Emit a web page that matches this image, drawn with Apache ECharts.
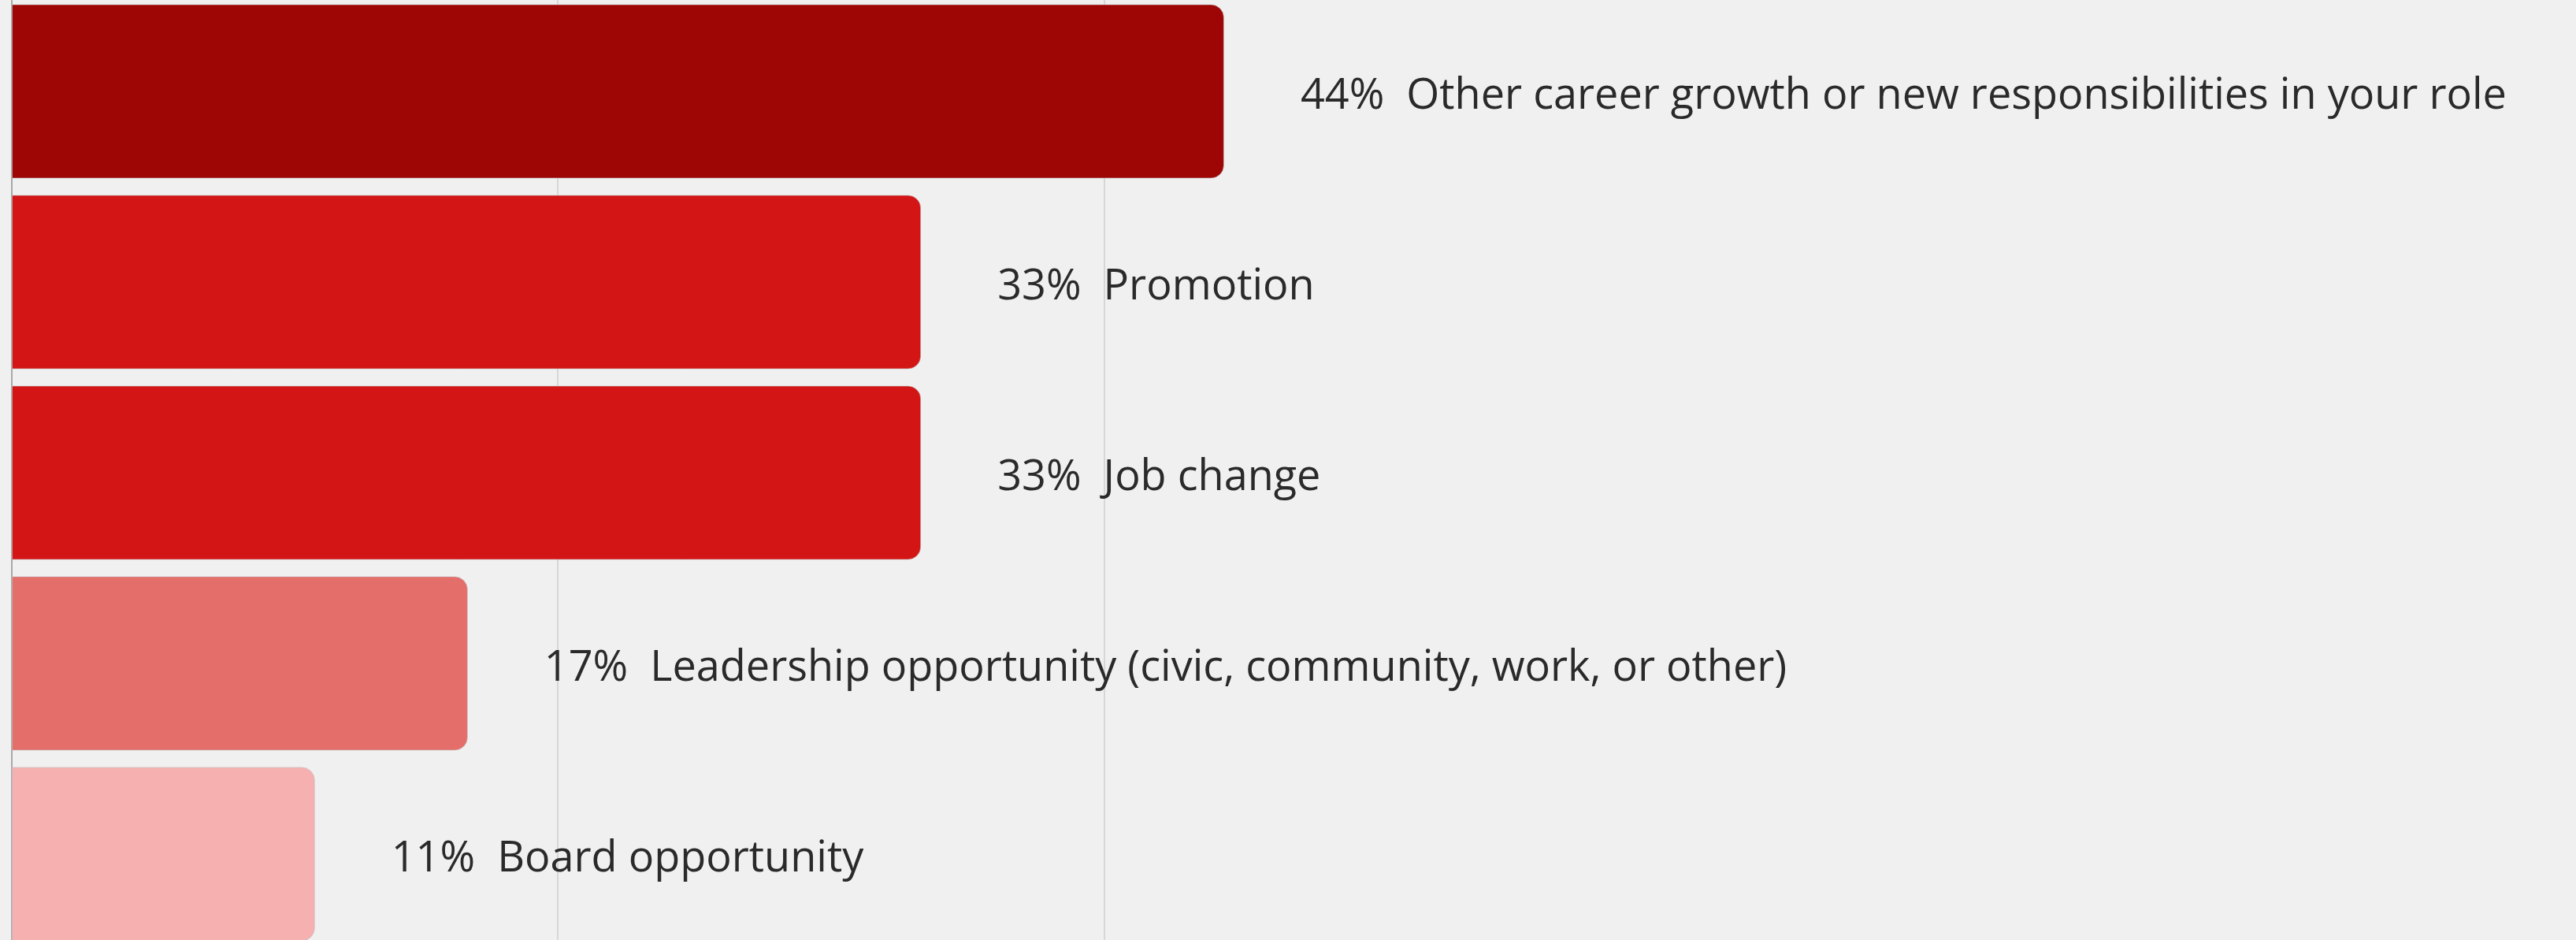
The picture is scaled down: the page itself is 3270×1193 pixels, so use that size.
<!DOCTYPE html>
<html>
<head>
<meta charset="utf-8">
<script src="https://cdn.jsdelivr.net/npm/echarts@6/dist/echarts.min.js"></script>
<style>
  html, body { margin: 0; padding: 0; background: #f0f0f0; }
  #main { width: 3270px; height: 1193px; }
</style>
</head>
<body>
<div id="main"></div>
<script>
// categories, top to bottom
var categories = [
    'Other career growth or new responsibilities in your role',
    'Promotion',
    'Job change',
    'Leadership opportunity (civic, community, work, or other)',
    'Board opportunity'
];
// share of respondents (%)
var values = [44.4, 33.3, 33.3, 16.7, 11.1];
var pctLabels = ['44%', '33%', '33%', '17%', '11%'];
var barColors = ['#9e0505', '#d41515', '#d41515', '#e46e6a', '#f7b0b0'];

var chart = echarts.init(document.getElementById('main'));

var seriesData = values.map(function (v, i) {
    return { value: v, itemStyle: { color: barColors[i] } };
});

chart.setOption({
    backgroundColor: '#f0f0f0',
    animation: false,
    grid: { left: 15, top: -5, width: 1733, height: 1210, outerBoundsMode: 'none' },
    xAxis: {
        type: 'value',
        min: 0,
        max: 50,
        interval: 20,
        axisLabel: { show: false },
        axisLine: { show: false },
        axisTick: { show: false },
        splitLine: { showMaxLine: false, lineStyle: { color: '#cfcfcf', width: 1.5 } }
    },
    yAxis: {
        type: 'category',
        inverse: true,
        data: categories,
        axisLabel: { show: false },
        axisTick: { show: false },
        axisLine: { lineStyle: { color: '#9a9a9a', width: 1.5 } }
    },
    series: [{
        type: 'bar',
        data: seriesData,
        barWidth: 221,
        itemStyle: {
            borderRadius: [0, 16, 16, 0],
            borderColor: 'rgba(190,190,190,0.6)',
            borderWidth: 1
        },
        label: {
            show: true,
            position: 'right',
            distance: 97,
            offset: [0, 7],
            formatter: function (p) {
                return pctLabels[p.dataIndex] + '  ' + categories[p.dataIndex];
            },
            color: '#2a2a2a',
            fontFamily: 'Open Sans',
            fontSize: 54
        }
    }]
});
</script>
</body>
</html>
